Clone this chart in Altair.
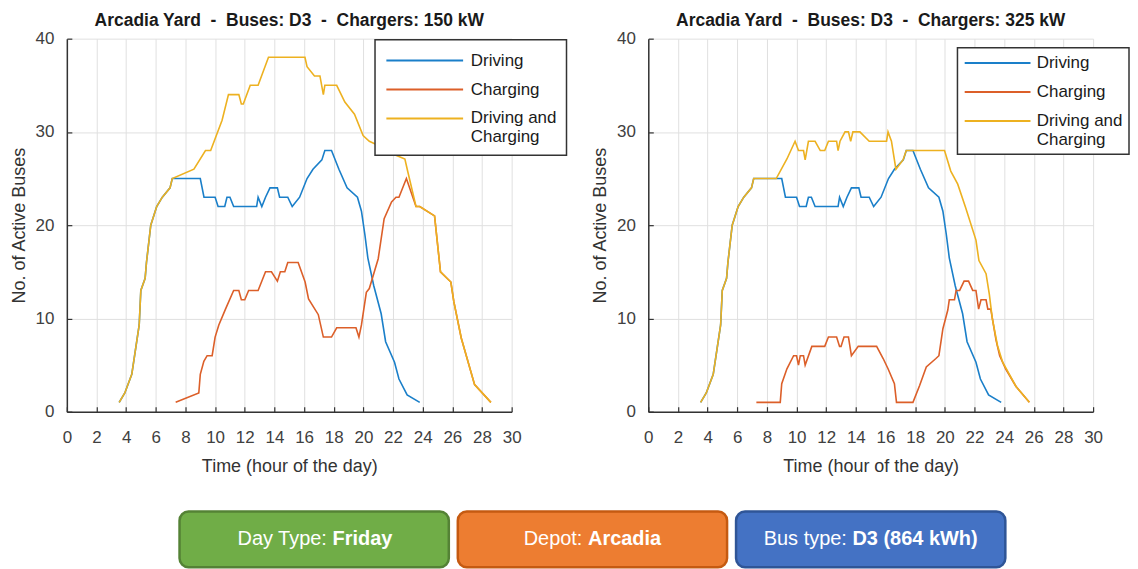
import altair as alt
import pandas as pd

# ---------------- data ----------------
SERIES = ["Driving", "Charging", "Driving and Charging"]
COLORS = ["#1a7fc9", "#dc5f29", "#edb120"]

ramp_t = [3.53, 3.91, 4.38, 4.88, 4.99, 5.28, 5.37, 5.66, 6.06, 6.44, 6.96, 7.11]
ramp_v = [1, 2, 4, 9.3, 13, 14.3, 16, 20, 22, 23, 24, 25]

drive_t = ramp_t + [9.0, 9.25, 10.0, 10.2, 10.65, 10.8, 11.0, 11.25, 12.8, 12.9, 13.15, 13.4,
                    13.7, 14.2, 14.35, 14.9, 15.2, 15.7, 16.2, 16.6, 17.2, 17.4, 17.85, 18.35,
                    18.9, 19.6, 19.87, 20.1, 20.3, 20.7, 21.2, 21.5, 22.1, 22.4, 22.95, 23.8]
drive_v = ramp_v + [25, 23, 23, 22, 22, 23, 23, 22, 22, 23, 22, 23,
                    24, 24, 23, 23, 22, 23, 25, 26, 27, 28, 28, 26,
                    24, 23, 21.5, 19, 16.5, 13.5, 10.5, 7.5, 5.3, 3.5, 1.8, 1]

charge150_t = [7.34, 8.9, 9.0, 9.24, 9.46, 9.8, 10.0, 10.25, 10.7, 11.25, 11.6, 11.77, 12.0,
               12.26, 12.9, 13.4, 13.8, 14.2, 14.4, 14.7, 14.9, 15.6, 16.07, 16.3, 16.96, 17.3,
               17.85, 18.2, 19.5, 19.7, 19.87, 20.2, 20.4, 21.0, 21.4, 21.9, 22.2, 22.4, 22.9,
               23.55, 23.8, 24.8, 25.2, 25.9, 26.1, 26.6, 27.5, 28.6]
charge150_v = [1, 2, 4, 5.4, 6, 6, 8, 9.3, 11, 13, 13, 12, 12,
               13, 13, 15, 15, 14, 15, 15, 16, 16, 13.9, 12.1, 10.4, 8,
               8, 9, 9, 8, 9.3, 12.8, 13.2, 16.4, 20.7, 22.5, 23, 23, 25,
               22, 22, 21, 15, 13.9, 11.8, 7.9, 2.9, 1]

total150_t = ramp_t + [8.57, 9.35, 9.7, 10.47, 10.9, 11.6, 11.77, 11.9, 12.37, 12.9, 13.6, 16.06,
                       16.2, 16.7, 17.07, 17.3, 17.4, 18.2, 18.75, 19.4, 19.98, 20.4, 20.8, 21.5,
                       22.2, 22.8, 23.0, 23.55, 23.8, 24.8, 25.2, 25.9, 26.1, 26.6, 27.5, 28.6]
total150_v = ramp_v + [26, 28, 28, 31.25, 34, 34, 33, 33, 35, 35, 38, 38,
                       37, 36, 36, 34, 35, 35, 33.2, 31.9, 29.6, 29, 28.7, 28.3,
                       27.5, 27.1, 25.7, 22, 22, 21, 15, 13.9, 11.8, 7.9, 2.9, 1]

charge325_t = [7.29, 8.9, 9.0, 9.35, 9.8, 10.0, 10.13, 10.25, 10.47, 10.58, 11.03, 11.9, 12.15,
               12.7, 12.9, 13.0, 13.2, 13.5, 13.7, 14.16, 15.4, 15.84, 16.17, 16.6, 16.74, 17.85,
               18.3, 18.75, 19.4, 19.6, 19.87, 20.2, 20.3, 20.65, 20.76, 21.0, 21.3, 21.6, 21.88,
               22.1, 22.28, 22.44, 22.78, 22.9, 23.1, 23.45, 23.7, 24.1, 24.8, 25.7]
charge325_v = [1, 1, 3, 4.6, 6, 6, 5, 6, 6, 5, 7, 7, 8,
               8, 7, 7, 8, 8, 6, 7, 7, 5.7, 4.6, 3, 1, 1,
               2.8, 4.8, 5.7, 6, 8.9, 10.9, 12, 12, 13, 13, 14, 14, 13,
               13, 11, 12, 12, 11, 11, 7.7, 6, 4.6, 2.7, 1]

total325_t = ramp_t + [8.63, 9.35, 9.9, 10.13, 10.47, 10.58, 10.8, 11.25, 11.6, 11.9, 12.15, 12.7,
                       12.8, 12.93, 13.27, 13.5, 13.65, 13.8, 14.27, 14.9, 16.07, 16.17, 16.4, 16.7,
                       17.18, 17.4, 19.98, 20.4, 20.87, 21.4, 22.1, 22.3, 22.78, 23.0, 23.2, 23.55,
                       23.9, 24.8, 25.7]
total325_v = ramp_v + [25, 27.1, 29, 28, 28, 27, 29, 29, 28, 28, 29, 29,
                       28, 29, 30, 30, 29, 30, 30, 29, 29, 30, 29, 26,
                       27, 28, 28, 25.8, 24.4, 21.9, 18.4, 16.2, 14.8, 12.6, 10, 7.1,
                       5.3, 2.7, 1]

NB = "\u00a0"
TITLES = [f"Arcadia Yard {NB}-{NB} Buses: D3 {NB}-{NB} Chargers: 150 kW",
          f"Arcadia Yard {NB}-{NB} Buses: D3 {NB}-{NB} Chargers: 325 kW"]
X_TICKS = list(range(0, 31, 2))
Y_TICKS = [0, 10, 20, 30, 40]

BTN_KEYS = ["day", "depot", "bus"]
BTN_PREFIX = ["Day Type:", "Depot:", "Bus type:"]
BTN_VALUE = ["Friday", "Arcadia", "D3 (864 kWh)"]
BTN_FILL = ["#70ad47", "#ed7d31", "#4472c4"]
BTN_STROKE = ["#548235", "#c55a11", "#2f5597"]

# ---------------- styling ----------------
FONT = "Liberation Sans"
W, H = 446, 374
AXIS_COL = "#333333"
LABEL_COL = "#404040"
GRID_COL = "#e0e0e0"
# legend line symbol: a horizontal stroke starting at the symbol's left edge
LEG_SYMBOL = "M-1,0H7"


def series_df(t, v, name):
    return pd.DataFrame({"hour": t, "buses": v, "series": name})


def panel(charge_t, charge_v, total_t, total_v, title, lx, ly, lpad, lsize, loffset, lrow):
    df = pd.concat([series_df(drive_t, drive_v, SERIES[0]),
                    series_df(charge_t, charge_v, SERIES[1]),
                    series_df(total_t, total_v, SERIES[2])], ignore_index=True)
    legend = alt.Legend(
        title=None, orient="none", legendX=lx, legendY=ly,
        fillColor="white", strokeColor="#333333", padding=lpad, rowPadding=lrow,
        symbolType=LEG_SYMBOL, symbolSize=lsize, symbolStrokeWidth=2,
        labelFont=FONT, labelFontSize=17, labelColor="#1a1a1a", labelOffset=loffset,
        labelLimit=300, zindex=1,
        labelExpr="datum.label == 'Driving and Charging' ? ['Driving and', 'Charging'] : datum.label",
    )
    color = alt.Color("series:N", scale=alt.Scale(domain=SERIES, range=COLORS), legend=legend)
    xscale = alt.Scale(domain=[0, 30], nice=False)
    yscale = alt.Scale(domain=[0, 40], nice=False)
    xaxis = alt.Axis(values=X_TICKS, tickSize=0, labelPadding=18, grid=True, gridColor=GRID_COL,
                     domainColor=AXIS_COL, domainWidth=1.5, labelFont=FONT, labelFontSize=17,
                     labelColor=LABEL_COL, title="Time (hour of the day)", titleFont=FONT,
                     titleFontSize=18, titleFontWeight="normal", titleColor="#333333",
                     titlePadding=12, labelFlush=False)
    yaxis = alt.Axis(values=Y_TICKS, tickSize=0, labelPadding=13, grid=True, gridColor=GRID_COL,
                     domainColor=AXIS_COL, domainWidth=1.5, labelFont=FONT, labelFontSize=17,
                     labelColor=LABEL_COL, title="No. of Active Buses", titleFont=FONT,
                     titleFontSize=18, titleFontWeight="normal", titleColor="#333333",
                     titlePadding=7)
    base = alt.Chart(df)
    lines = []
    for s in SERIES:
        lines.append(base.transform_filter(alt.datum.series == s).mark_line(strokeWidth=1.6).encode(
            x=alt.X("hour:Q", scale=xscale, axis=xaxis),
            y=alt.Y("buses:Q", scale=yscale, axis=yaxis),
            color=color,
        ))
    inner = alt.layer(*lines)
    ticks = base.mark_line(opacity=0).encode(
        x=alt.X("hour:Q", scale=xscale,
                axis=alt.Axis(orient="top", offset=-H, values=X_TICKS, labels=False, grid=False,
                              domain=False, tickSize=5, tickColor=AXIS_COL, tickWidth=1.2, title=None)),
        y=alt.Y("buses:Q", scale=yscale,
                axis=alt.Axis(orient="right", offset=-W, values=Y_TICKS, labels=False, grid=False,
                              domain=False, tickSize=5, tickColor=AXIS_COL, tickWidth=1.2, title=None)),
    )
    return alt.layer(inner, ticks).resolve_axis(x="independent", y="independent").properties(
        width=W, height=H,
        title=alt.TitleParams(title, font=FONT, fontSize=17.5, fontWeight="bold",
                              color="#1a1a1a", offset=0, anchor="middle"),
    )


left = panel(charge150_t, charge150_v, total150_t, total150_v, TITLES[0],
             309, 1, 10, 370, 64, 10)
right = panel(charge325_t, charge325_v, total325_t, total325_v, TITLES[1],
              310, 9, 6, 272, 54.5, 11)

top = alt.hconcat(left, right, spacing=24).resolve_scale(color="independent").resolve_legend(
    color="independent")

# ---------------- buttons ----------------
bdf = pd.DataFrame({"key": BTN_KEYS, "prefix": BTN_PREFIX, "value": BTN_VALUE})
bx = alt.X("key:N", sort=BTN_KEYS, axis=None,
           scale=alt.Scale(range=[113, 941], paddingInner=0.0323, paddingOuter=0))
bars = alt.Chart(bdf).mark_bar(cornerRadius=9, strokeWidth=2.5).encode(
    x=bx,
    fill=alt.Fill("key:N", scale=alt.Scale(domain=BTN_KEYS, range=BTN_FILL), legend=None),
    stroke=alt.Stroke("key:N", scale=alt.Scale(domain=BTN_KEYS, range=BTN_STROKE), legend=None),
)
# horizontal nudges (px) that centre "prefix + bold value" inside each button
PRE_DX = [12.75, -10.05, -23.9]
VAL_DX = [18.35, -4.45, -18.3]
btn_layers = [bars]
for k, pdx, vdx in zip(BTN_KEYS, PRE_DX, VAL_DX):
    sub = alt.Chart(bdf).transform_filter(alt.datum.key == k)
    btn_layers.append(sub.mark_text(align="right", dx=pdx, font=FONT, fontSize=20,
                                    color="white").encode(x=bx, text="prefix:N"))
    btn_layers.append(sub.mark_text(align="left", dx=vdx, font=FONT, fontSize=20,
                                    fontWeight="bold", color="white").encode(x=bx, text="value:N"))
buttons = alt.layer(*btn_layers).properties(width=950, height=56)

chart = alt.vconcat(
    top,
    buttons,
    spacing=34,
).properties(
    padding={"left": 2, "top": 3, "right": 0, "bottom": 0},
    background="white",
).configure_view(stroke=None).configure_legend(strokeWidth=1.5)

chart.save("out.html", embed_options={"renderer": "svg", "actions": False})
